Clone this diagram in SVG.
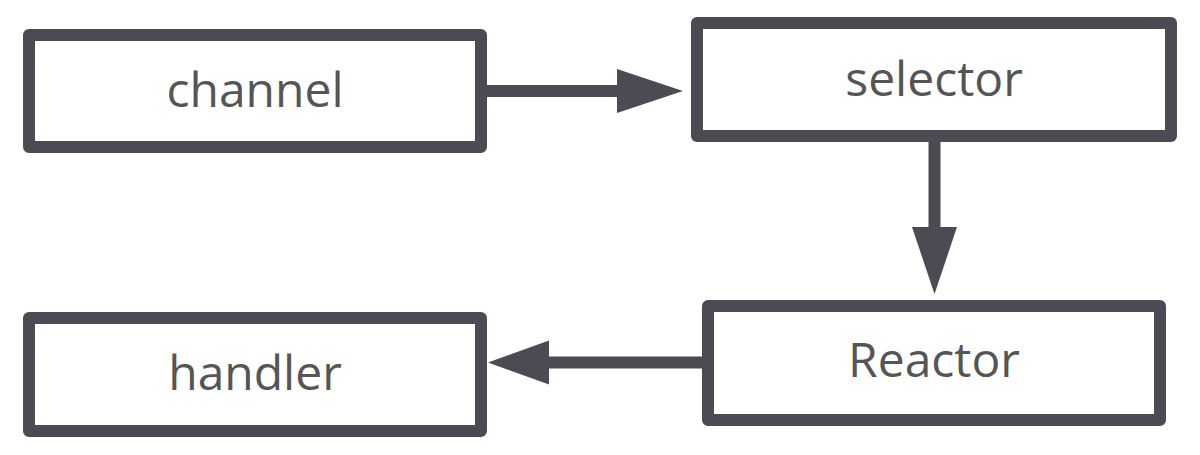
<svg xmlns="http://www.w3.org/2000/svg" width="1200" height="455" viewBox="0 0 1200 455">
  <style>
    .box { fill: #ffffff; stroke: #4b4c53; stroke-width: 12; stroke-linejoin: round; }
    .lbl { font-family: "Open Sans", "Noto Sans", sans-serif; font-size: 48px; fill: #555555; text-anchor: middle; }
    .line { stroke: #4b4c53; stroke-width: 12; fill: none; }
    .head { fill: #4b4c53; }
  </style>
  <rect width="1200" height="455" fill="#ffffff"/>
  <g id="connectors">
    <line class="line" x1="487" y1="91" x2="620" y2="91"/>
    <polygon class="head" points="617,69 683,91 617,113"/>
    <line class="line" x1="934.5" y1="142" x2="934.5" y2="230"/>
    <polygon class="head" points="912,227 957,227 934.5,294"/>
    <line class="line" x1="702" y1="362.5" x2="546" y2="362.5"/>
    <polygon class="head" points="549,340.5 488,362.5 549,384.5"/>
  </g>
  <g id="channel">
    <rect class="box" x="29" y="35" width="452" height="112"/>
    <text class="lbl" x="255" y="107">channel</text>
  </g>
  <g id="selector">
    <rect class="box" x="697" y="23" width="474" height="113"/>
    <text class="lbl" x="934" y="96">selector</text>
  </g>
  <g id="Reactor">
    <rect class="box" x="708" y="306" width="452" height="114"/>
    <text class="lbl" x="934" y="377">Reactor</text>
  </g>
  <g id="handler">
    <rect class="box" x="29" y="318" width="452" height="113"/>
    <text class="lbl" x="255" y="390">handler</text>
  </g>
</svg>
